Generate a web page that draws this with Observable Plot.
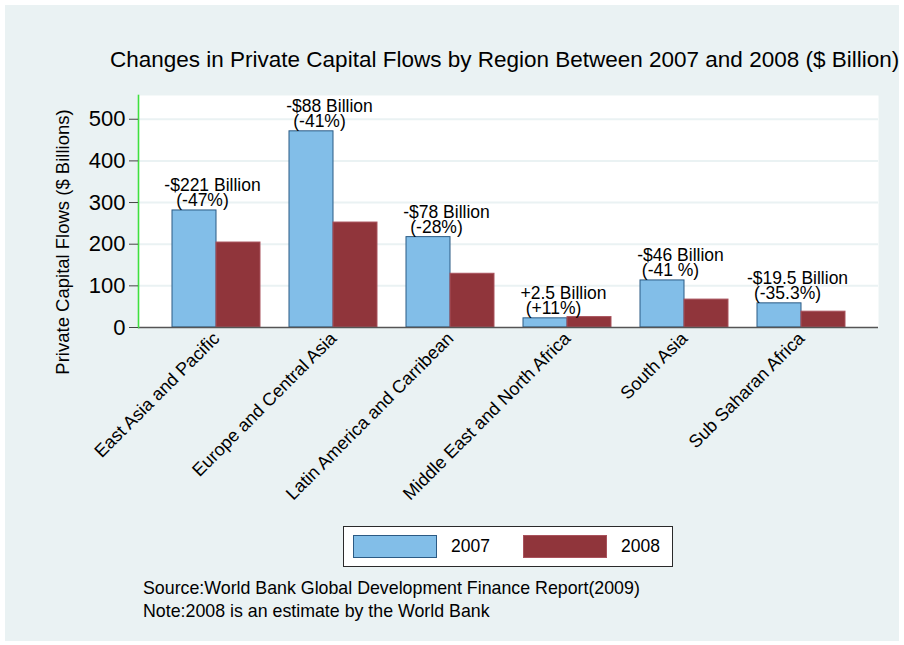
<!DOCTYPE html>
<html>
<head>
<meta charset="utf-8">
<script src="https://cdn.jsdelivr.net/npm/d3@7"></script>
<script src="https://cdn.jsdelivr.net/npm/@observablehq/plot@0.6"></script>
<style>
  html, body { margin: 0; padding: 0; background: #ffffff; }
  body { font-family: "Liberation Sans", Arial, Helvetica, sans-serif; color: #000; }
  #wrap { position: relative; width: 904px; height: 645px; overflow: hidden; }
  #bg { position: absolute; left: 5px; top: 5px; width: 894px; height: 636px; background: #eaf2f3; }
  #title { position: absolute; left: 110px; top: 49px; font-size: 22.5px; line-height: 22.5px; white-space: nowrap; }
  #chart { position: absolute; left: 0; top: 0; }
  #ylabel { position: absolute; left: 63px; top: 242px; font-size: 18.5px; white-space: nowrap;
            transform: translate(-50%, -50%) rotate(-90deg); }
  #legend { position: absolute; left: 343px; top: 526px; width: 328px; height: 39px; background: #fff;
            border: 1px solid #2a2a2a; }
  .item { position: absolute; top: 0; height: 39px; display: flex; align-items: center; font-size: 17.5px; }
  .sw { width: 84px; height: 23px; margin-right: 14px; box-sizing: border-box; }
  #notes { position: absolute; left: 143px; top: 577px; font-size: 17.8px; line-height: 23px; white-space: nowrap; }
</style>
</head>
<body>
<div id="wrap">
  <div id="bg"></div>
  <div id="title"></div>
  <div id="chart"></div>
  <div id="ylabel"></div>
  <div id="legend"></div>
  <div id="notes"></div>
</div>
<script>
const titleText = "Changes in Private Capital Flows by Region Between 2007 and 2008 ($ Billion)";
const yLabelText = "Private Capital Flows ($ Billions)";
const regions = ["East Asia and Pacific", "Europe and Central Asia", "Latin America and Carribean",
                 "Middle East and North Africa", "South Asia", "Sub Saharan Africa"];
const flows2007 = [281, 471, 217, 22, 113, 58];
const flows2008 = [204, 252, 129, 25, 67, 38];
const changeLabels = ["-$221 Billion", "-$88 Billion", "-$78 Billion", "+2.5 Billion", "-$46 Billion", "-$19.5 Billion"];
const pctLabels = ["(-47%)", "(-41%)", "(-28%)", "(+11%)", "(-41 %)", "(-35.3%)"];
const yTicks = [0, 100, 200, 300, 400, 500];
const seriesNames = ["2007", "2008"];
const seriesColors = ["#82bee8", "#90353b"];
const seriesStrokes = ["#2b5a84", "#a9525c"];
const sourceNote = "Source:World Bank Global Development Finance Report(2009)";
const estimateNote = "Note:2008 is an estimate by the World Bank";

const data = regions.map((r, i) => ({
  region: r, v2007: flows2007[i], v2008: flows2008[i], change: changeLabels[i], pct: pctLabels[i]
}));

document.getElementById("title").textContent = titleText;
document.getElementById("ylabel").textContent = yLabelText;
document.getElementById("notes").innerHTML =
  `<div>${sourceNote}</div><div>${estimateNote}</div>`;

const legend = document.getElementById("legend");
const legendLefts = [9, 179];
seriesNames.forEach((name, i) => {
  const item = document.createElement("div");
  item.className = "item";
  item.style.left = legendLefts[i] + "px";
  const sw = document.createElement("div");
  sw.className = "sw";
  sw.style.background = seriesColors[i];
  sw.style.border = "1px solid " + seriesStrokes[i];
  const lab = document.createElement("span");
  lab.textContent = name;
  item.appendChild(sw);
  item.appendChild(lab);
  legend.appendChild(item);
});

const half = 44;
const chart = Plot.plot({
  width: 904,
  height: 510,
  marginTop: 95,
  marginBottom: 183,
  marginLeft: 138,
  marginRight: 26,
  style: { background: "transparent", fontFamily: "'Liberation Sans', Arial, sans-serif", color: "#000" },
  x: { domain: regions, paddingInner: 0.25, paddingOuter: 0.2725, label: null },
  y: { domain: [0, 557], label: null },
  marks: [
    Plot.frame({ fill: "white", stroke: null }),
    Plot.ruleY(yTicks.slice(1), { stroke: "#eaf2f3", strokeWidth: 2 }),
    Plot.barY(data, { x: "region", y: "v2007", fill: seriesColors[0], stroke: seriesStrokes[0], strokeWidth: 1, insetRight: half }),
    Plot.barY(data, { x: "region", y: "v2008", fill: seriesColors[1], stroke: seriesStrokes[1], strokeWidth: 1, insetLeft: half }),
    Plot.ruleY([0], { stroke: "#555555", strokeWidth: 1.6 }),
    Plot.frame({ anchor: "left", stroke: "#3fe03f", strokeWidth: 1.6 }),
    Plot.text(data, { x: "region", y: "v2007", text: "change", lineAnchor: "bottom", dy: -19, dx: -4, fontSize: 17.5, fill: "#000" }),
    Plot.text(data, { x: "region", y: "v2007", text: "pct", lineAnchor: "bottom", dy: -4, dx: -14, fontSize: 17.5, fill: "#000" }),
    Plot.axisY({ ticks: yTicks, tickSize: 9, tickPadding: 4, fontSize: 22, stroke: "#444", color: "#000", label: null }),
    Plot.axisX({ tickSize: 0, tickPadding: 8, tickRotate: -45, fontSize: 18, label: null, color: "#000" })
  ]
});
document.getElementById("chart").appendChild(chart);
</script>
</body>
</html>
